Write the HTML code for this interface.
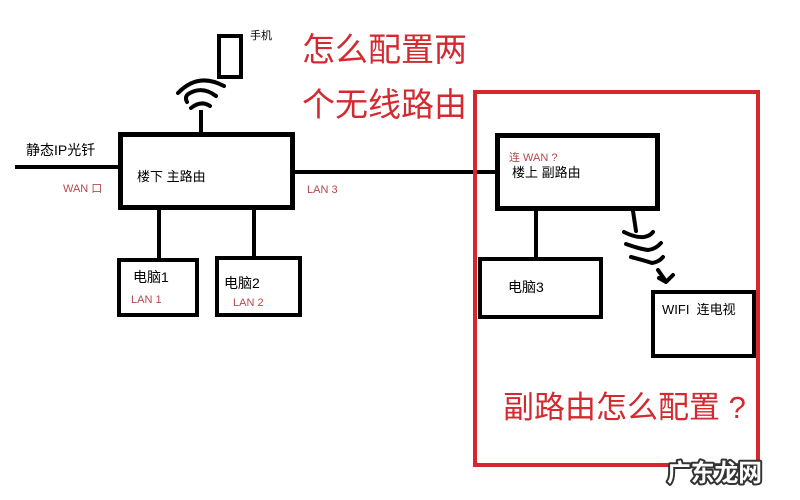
<!DOCTYPE html>
<html>
<head>
<meta charset="utf-8">
<style>
html,body{margin:0;padding:0;background:#fff;}
svg{display:block;}
text{font-family:"Liberation Sans","Noto Sans CJK SC",sans-serif;}
</style>
</head>
<body>
<svg width="800" height="500" viewBox="0 0 800 500" xmlns="http://www.w3.org/2000/svg">
<rect x="0" y="0" width="800" height="500" fill="#fff"/>

<!-- phone -->
<rect x="219" y="36" width="22" height="41" fill="none" stroke="#000" stroke-width="4"/>
<text x="250" y="39" font-size="11" fill="#000">手机</text>

<!-- wifi arcs -->
<path d="M178 93 Q198 72 224 86" fill="none" stroke="#000" stroke-width="4" stroke-linecap="round"/>
<path d="M187 102 Q184 96 190 93 Q203 86 216 96" fill="none" stroke="#000" stroke-width="4" stroke-linecap="round"/>
<path d="M191 108 Q201 100 210 106" fill="none" stroke="#000" stroke-width="4" stroke-linecap="round"/>
<line x1="201" y1="110" x2="201" y2="133" stroke="#000" stroke-width="4"/>

<!-- WAN line -->
<line x1="15" y1="167" x2="120" y2="167" stroke="#000" stroke-width="4"/>
<text x="26" y="155" font-size="14" fill="#000">静态IP光钎</text>
<text x="63" y="192" font-size="11" fill="#b5474a">WAN 口</text>

<!-- main router -->
<rect x="120.5" y="134.5" width="172" height="73" fill="none" stroke="#000" stroke-width="5"/>
<text x="137" y="181" font-size="13" fill="#000">楼下 主路由</text>

<!-- LAN3 line -->
<line x1="293" y1="172" x2="498" y2="172" stroke="#000" stroke-width="4"/>
<text x="307" y="193" font-size="11" fill="#b5474a">LAN 3</text>

<!-- stems -->
<line x1="159" y1="209" x2="159" y2="259" stroke="#000" stroke-width="4"/>
<line x1="254" y1="209" x2="254" y2="257" stroke="#000" stroke-width="4"/>

<!-- PC1 -->
<rect x="119" y="260" width="78" height="55" fill="none" stroke="#000" stroke-width="4"/>
<text x="133" y="282" font-size="14" fill="#000">电脑1</text>
<text x="131" y="303" font-size="11" fill="#b5474a">LAN 1</text>

<!-- PC2 -->
<rect x="217" y="258" width="83" height="57" fill="none" stroke="#000" stroke-width="4"/>
<text x="224" y="288" font-size="14" fill="#000">电脑2</text>
<text x="233" y="306" font-size="11" fill="#b5474a">LAN 2</text>

<!-- title -->
<text x="302" y="61" font-size="33" fill="#d32a2f">怎么配置两</text>
<text x="302" y="116" font-size="33" fill="#d32a2f">个无线路由</text>

<!-- sub router -->
<rect x="497.5" y="135.5" width="160" height="73" fill="none" stroke="#000" stroke-width="5"/>
<text x="509" y="161" font-size="11" fill="#b5474a">连 WAN ?</text>
<text x="512" y="177" font-size="13" fill="#000">楼上 副路由</text>

<line x1="536" y1="210" x2="536" y2="259" stroke="#000" stroke-width="4"/>

<!-- PC3 -->
<rect x="480" y="259" width="121" height="58" fill="none" stroke="#000" stroke-width="4"/>
<text x="508" y="292" font-size="14" fill="#000">电脑3</text>

<!-- squiggle -->
<path d="M633 211 L636 231" fill="none" stroke="#000" stroke-width="4" stroke-linecap="round"/>
<path d="M624 232 Q636 238 644 237 Q650 236 653 232" fill="none" stroke="#000" stroke-width="4" stroke-linecap="round"/>
<path d="M626 244 Q640 249 648 250 Q656 249 661 243" fill="none" stroke="#000" stroke-width="4" stroke-linecap="round"/>
<path d="M631 257 Q643 260 652 263 Q659 262 663 257" fill="none" stroke="#000" stroke-width="4" stroke-linecap="round"/>
<path d="M658 270 L665 280" fill="none" stroke="#000" stroke-width="4" stroke-linecap="round"/>
<path d="M659 278 L666 282 L673 275" fill="none" stroke="#000" stroke-width="4" stroke-linecap="round" stroke-linejoin="round"/>

<!-- WIFI TV -->
<rect x="653" y="292" width="101" height="64" fill="none" stroke="#000" stroke-width="4"/>
<text x="662" y="314" font-size="13" fill="#000">WIFI&#160;&#160;连电视</text>

<!-- red box -->
<rect x="475" y="92" width="283" height="373" fill="none" stroke="#d8262e" stroke-width="4"/>

<text x="503" y="418" font-size="31" fill="#d32a2f">副路由怎么配置 ?</text>

<!-- watermark -->
<text x="667" y="481" font-size="24" font-weight="bold" fill="#fff" stroke="#333" stroke-width="4" paint-order="stroke" stroke-linejoin="round" textLength="95" lengthAdjust="spacingAndGlyphs">广东龙网</text>
</svg>
</body>
</html>
